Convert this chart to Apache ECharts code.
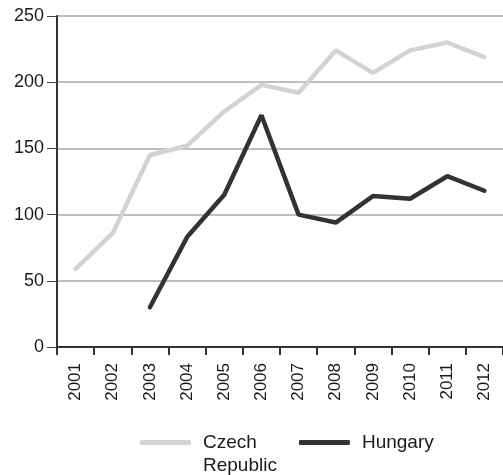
<!DOCTYPE html>
<html>
<head>
<meta charset="utf-8">
<script src="https://cdn.jsdelivr.net/npm/echarts@6/dist/echarts.min.js"></script>
<style>
  html, body { margin: 0; padding: 0; background: #fff; }
  #chart { width: 503px; height: 475px; }
</style>
</head>
<body>
<div id="chart"></div>
<script>
const years = ["2001", "2002", "2003", "2004", "2005", "2006", "2007", "2008", "2009", "2010", "2011", "2012"];
const czech = [59, 86, 145, 152, 178, 198, 192, 224, 207, 224, 230, 219];
const hungary = [null, null, 30, 83, 115, 175, 100, 94, 114, 112, 129, 118];
const yTicks = [0, 50, 100, 150, 200, 250];

const myChart = echarts.init(document.getElementById("chart"));

const option = {
  animation: false,
  grid: { left: 57, right: -6, top: 16, bottom: 128 },
  xAxis: {
    type: "category",
    data: years,
    boundaryGap: true,
    axisLine: { lineStyle: { color: "#333", width: 2 } },
    axisTick: { show: true, interval: 0, length: 8, lineStyle: { color: "#333", width: 2 } },
    axisLabel: {
      rotate: 90,
      margin: 16,
      color: "#1a1a1a",
      fontFamily: "Liberation Sans",
      fontSize: 17
    },
    splitLine: { show: false }
  },
  yAxis: {
    type: "value",
    min: yTicks[0],
    max: yTicks[yTicks.length - 1],
    interval: 50,
    axisLine: { show: true, lineStyle: { color: "#333", width: 2 } },
    axisTick: { show: true, length: 10, lineStyle: { color: "#444", width: 1 } },
    axisLabel: {
      margin: 13,
      color: "#1a1a1a",
      fontFamily: "Liberation Sans",
      fontSize: 18
    },
    splitLine: { lineStyle: { color: "#aaa", width: 1.5 } }
  },
  legend: {
    left: 135,
    top: 403,
    icon: "roundRect",
    itemWidth: 51,
    itemHeight: 5,
    itemGap: 22,
    formatter: function (name) {
      return name === "Czech Republic" ? " \nCzech\nRepublic" : name;
    },
    textStyle: {
      color: "#1a1a1a",
      fontFamily: "Liberation Sans",
      fontSize: 19,
      lineHeight: 23,
      padding: [0, 0, 0, 7]
    },
    data: ["Czech Republic", "Hungary"]
  },
  series: [
    {
      name: "Czech Republic",
      type: "line",
      data: czech,
      symbol: "none",
      color: "#d2d4d2",
      lineStyle: { width: 4.5, color: "#d2d4d2", cap: "round" }
    },
    {
      name: "Hungary",
      type: "line",
      data: hungary,
      symbol: "none",
      color: "#333333",
      lineStyle: { width: 4.5, color: "#333333", cap: "round" }
    }
  ]
};

option && myChart.setOption(option);
</script>
</body>
</html>
